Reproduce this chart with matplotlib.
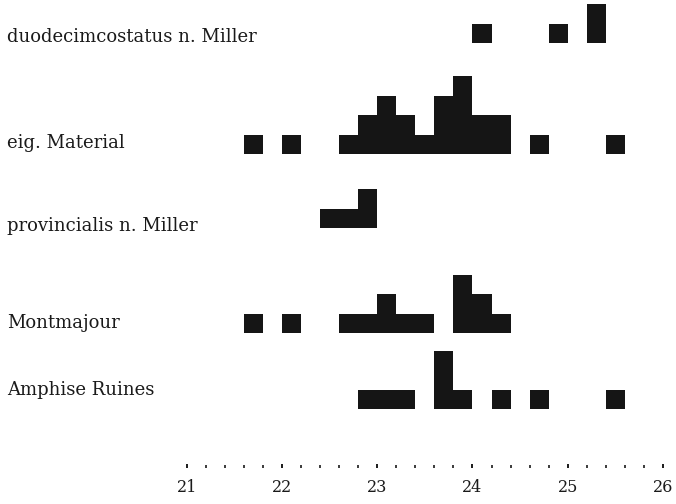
import matplotlib
matplotlib.use("Agg")
import matplotlib.pyplot as plt
from matplotlib.ticker import FixedLocator

# --- data: left edges of 0.2-wide classes and counts per class ---
labels = ["duodecimcostatus n. Miller", "eig. Material", "provincialis n. Miller",
          "Montmajour", "Amphise Ruines"]

duo_x = [24.0, 24.8, 25.2]
duo_n = [1, 1, 2]

eig_x = [21.6, 22.0, 22.6, 22.8, 23.0, 23.2, 23.4, 23.6, 23.8, 24.0, 24.2, 24.6, 25.4]
eig_n = [1, 1, 1, 2, 3, 2, 1, 3, 4, 2, 2, 1, 1]

prov_x = [22.4, 22.6, 22.8]
prov_n = [1, 1, 2]

mont_x = [21.6, 22.0, 22.6, 22.8, 23.0, 23.2, 23.4, 23.8, 24.0, 24.2]
mont_n = [1, 1, 1, 1, 2, 1, 1, 3, 2, 1]

amph_x = [22.8, 23.0, 23.2, 23.6, 23.8, 24.2, 24.6, 25.4]
amph_n = [1, 1, 1, 3, 1, 1, 1, 1]

series = [(duo_x, duo_n), (eig_x, eig_n), (prov_x, prov_n), (mont_x, mont_n), (amph_x, amph_n)]

major_ticks = [21, 22, 23, 24, 25, 26]
minor_ticks = [21 + 0.2 * i for i in range(26)]

# --- layout (pixels from top of the figure) ---
W, H = 676, 504
axis_px = 468          # y of the tick row
unit_px = 19.5         # height of one count
row_base_px = [43, 154, 228, 333, 409]
label_base_px = [42, 148, 231, 328, 395]

serif = ["DejaVu Serif"]
ink = "#1a1a1a"

fig = plt.figure(figsize=(W / 100, H / 100), dpi=100)
ax = fig.add_axes([0, (H - axis_px) / H, 1, axis_px / H])

ax.set_ylim(0, axis_px / unit_px)
px_per_x = (663 - 186.7) / 5
xmin = 21 - 186.7 / px_per_x

for (xs, ns), base in zip(series, row_base_px):
    b = (axis_px - base) / unit_px
    ax.bar(xs, ns, width=0.2, bottom=b, align="edge", color="#151515", linewidth=0)

for lab, lb in zip(labels, label_base_px):
    ax.text(xmin + 7 / px_per_x, (axis_px - lb) / unit_px, lab, family=serif,
            fontsize=13, va="baseline", ha="left", color=ink)

for s in ax.spines.values():
    s.set_visible(False)
ax.set_yticks([])
ax.xaxis.set_major_locator(FixedLocator(major_ticks))
ax.xaxis.set_minor_locator(FixedLocator(minor_ticks))
ax.tick_params(axis="x", which="major", direction="in", length=3, width=1.4,
               color=ink, pad=8, labelsize=11.5)
ax.tick_params(axis="x", which="minor", direction="in", length=2, width=1.2,
               color=ink)
for t in ax.get_xticklabels():
    t.set_family(serif)
    t.set_color(ink)
ax.set_xlim(xmin, xmin + W / px_per_x)

fig.savefig("out.png", dpi=100)
